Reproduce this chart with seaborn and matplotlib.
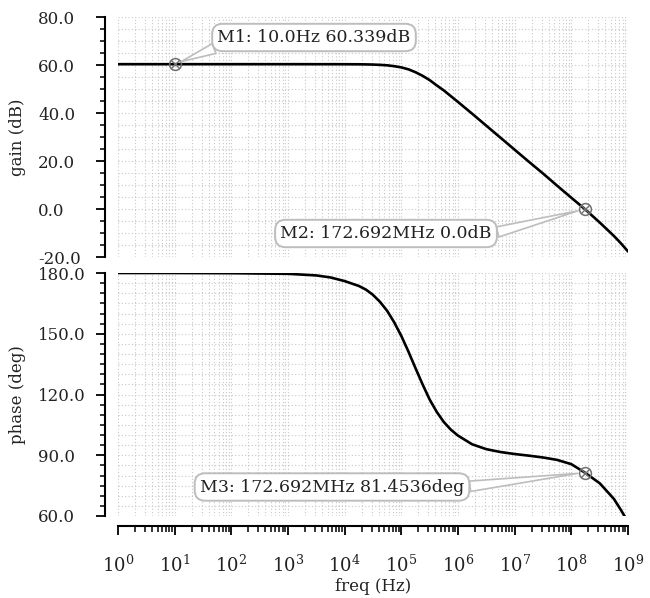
import numpy as np
import pandas as pd
import matplotlib
matplotlib.use("Agg")
import matplotlib.pyplot as plt
import matplotlib.ticker as mticker
import seaborn as sns

# Values (log10 of frequency in Hz)
freq_dec = [0.0, 1.0, 2.0, 3.0, 3.5, 3.75, 4.0, 4.25, 4.375, 4.5, 4.625, 4.75,
            4.875, 5.0, 5.125, 5.25, 5.375, 5.5, 5.625, 5.75, 5.875, 6.0, 6.25,
            6.5, 6.75, 7.0, 7.25, 7.5, 7.75, 8.0, 8.237, 8.5, 8.75, 8.875, 9.0]
gain_db = [60.34, 60.34, 60.34, 60.34, 60.33, 60.33, 60.32, 60.29, 60.25, 60.18,
           60.05, 59.87, 59.5, 59.0, 58.2, 57.0, 55.5, 53.7, 51.5, 49.4, 47.0,
           44.6, 39.7, 34.7, 29.7, 24.7, 19.7, 14.8, 9.7, 4.7, 0.0, -5.6, -11.2,
           -14.3, -17.7]
phase_deg = [180.0, 180.0, 179.9, 179.6, 178.8, 177.8, 176.0, 173.6, 171.8,
             169.2, 165.7, 161.3, 155.6, 148.9, 141.2, 133.0, 125.0, 117.5,
             111.4, 106.4, 102.6, 99.7, 95.4, 93.0, 91.6, 90.6, 89.8, 88.9, 87.7,
             85.6, 81.45, 76.2, 68.5, 63.0, 57.0]

markers_gain = [("M1: 10.0Hz 60.339dB", 10.0, 60.339),
                ("M2: 172.692MHz 0.0dB", 172.692e6, 0.0)]
markers_phase = [("M3: 172.692MHz 81.4536deg", 172.692e6, 81.4536)]

df = pd.DataFrame({"freq": np.power(10.0, freq_dec), "gain": gain_db, "phase": phase_deg})

sns.set_theme(style="white")
plt.rcParams["font.family"] = ["DejaVu Serif"]
plt.rcParams["mathtext.fontset"] = "dejavuserif"

W, H = 650, 598
fig = plt.figure(figsize=(W / 100, H / 100), dpi=100)
left, right = 118 / W, 628 / W
ax1 = fig.add_axes([left, 1 - 257 / H, right - left, 240 / H])
ax2 = fig.add_axes([left, 1 - 516 / H, right - left, 243 / H])

grid_kw = dict(color="#c8c8c8", linestyle=(0, (1, 2)), linewidth=0.8)
px = 72 / 100  # points per pixel

for ax, col, ylim, major, minor, lab in [
        (ax1, "gain", (-20, 80), 20, 5, "gain (dB)"),
        (ax2, "phase", (60, 180), 30, 5, "phase (deg)")]:
    sns.lineplot(data=df, x="freq", y=col, ax=ax, color="black", linewidth=1.9)
    ax.set_xscale("log")
    ax.set_xlim(1, 1e9)
    ax.set_ylim(*ylim)
    ax.xaxis.set_major_locator(mticker.LogLocator(base=10, numticks=20))
    ax.xaxis.set_minor_locator(mticker.LogLocator(base=10, subs=np.arange(2, 10), numticks=200))
    ax.yaxis.set_major_locator(mticker.MultipleLocator(major))
    ax.yaxis.set_minor_locator(mticker.MultipleLocator(minor))
    ax.yaxis.set_major_formatter(mticker.FormatStrFormatter("%.1f"))
    ax.grid(True, which="both", **grid_kw)
    ax.set_axisbelow(True)
    for s in ["top", "right"]:
        ax.spines[s].set_visible(False)
    ax.spines["left"].set_position(("outward", 13 * px))
    ax.spines["left"].set_linewidth(1.5)
    ax.spines["left"].set_color("black")
    # tick labels are left aligned at about x = 38 px in the reference
    ax.tick_params(axis="y", which="major", direction="out", length=9 * px, width=1.3,
                   color="black", labelsize=12, labelcolor="#222222",
                   pad=(105 - 9 - 38) * px, left=True)
    for t in ax.get_yticklabels():
        t.set_horizontalalignment("left")
    ax.tick_params(axis="y", which="minor", direction="out", length=5.5 * px, width=1.1,
                   color="black", left=True)
    ax.set_ylabel(lab, fontsize=12, color="#222222")
    ax.yaxis.set_label_coords((26 - 118) / 510, 0.5)
    ax.set_xlabel("")

ax1.spines["bottom"].set_visible(False)
ax1.tick_params(axis="x", which="both", length=0, labelbottom=False)

ax2.spines["bottom"].set_position(("outward", 10 * px))
ax2.spines["bottom"].set_linewidth(1.5)
ax2.spines["bottom"].set_color("black")
ax2.tick_params(axis="x", which="major", direction="out", length=9 * px, width=1.3,
                color="black", labelsize=13, labelcolor="#222222", pad=14, bottom=True)
ax2.tick_params(axis="x", which="minor", direction="out", length=6 * px, width=1.1,
                color="black", bottom=True)
ax2.set_xlabel("freq (Hz)", fontsize=12, labelpad=2, color="#222222")

# marker annotations
box_kw = dict(boxstyle="round,pad=0.3,rounding_size=0.6", fc="white", ec="#bdbdbd", lw=1.4)
label_pos = {"M1": ((314, H - 37.5), (0.06, 0.2)),
             "M2": ((386, H - 233.5), (1.0, 0.5)),
             "M3": ((332, H - 487), (1.0, 0.5))}
for ax, items in [(ax1, markers_gain), (ax2, markers_phase)]:
    for text, fx, fy in items:
        ax.plot([fx], [fy], marker="o", ms=8.5, mfc="none", mec="#707070", mew=1.1, zorder=5)
        ax.plot([fx], [fy], marker="x", ms=5.5, mec="#707070", mew=1.0, zorder=5)
        pos, rel = label_pos[text[:2]]
        ax.annotate(text, xy=(fx, fy), xycoords="data", xytext=pos,
                    textcoords="figure pixels", ha="center", va="center",
                    fontsize=12.5, color="#222222", bbox=box_kw, zorder=6,
                    arrowprops=dict(arrowstyle="wedge,tail_width=0.6,shrink_factor=0.5",
                                    fc="white", ec="#bdbdbd", lw=1.2, relpos=rel,
                                    shrinkA=0, shrinkB=5))

fig.savefig("out.png", dpi=100)
